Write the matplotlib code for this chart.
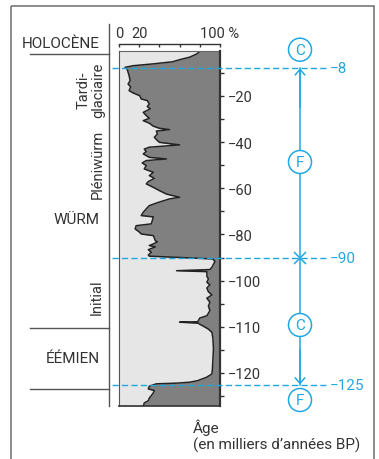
import numpy as np
import matplotlib
matplotlib.use("Agg")
import matplotlib.pyplot as plt
from matplotlib.patches import Circle, Rectangle
from matplotlib.ticker import FixedLocator, FixedFormatter
from matplotlib.transforms import blended_transform_factory

# pollen curve: age (ka, negative) and share of the light part (%)
AGE = [0, -1.1, -1.8, -3.2, -4.3, -5.2, -6.1, -6.9, -7.6, -8.3,
       -11.2, -13.4, -14.8, -16.1, -17.7, -18.7, -19.9, -21.3, -22.0, -23.5,
       -24.6, -25.6, -27.1, -28.5, -29.7, -30.7, -31.8, -33.1, -34.0, -34.6,
       -35.2, -36.5, -37.9, -38.9, -40.1, -41.2, -42.2, -43.0, -44.1, -45.1,
       -46.6, -47.3, -48.0, -49.0, -50.2, -51.6, -53.1, -54.5, -55.7, -57.1,
       -58.1, -59.6, -61.0, -62.5, -63.9, -64.6, -66.1, -67.5, -68.9, -70.4,
       -71.8, -72.4, -75.4, -76.2, -77.6, -78.9, -79.8, -80.5, -82.7, -83.2,
       -84.1, -84.8, -85.4, -86.6, -87.7, -88.9, -89.4, -90.6, -91.7, -94.2,
       -95.2, -95.7, -96.1, -98.1, -99.3, -100.35, -100.9, -101.6, -102.4, -103.1,
       -103.8, -104.7, -105.5, -106.5, -107.6, -108.1, -108.9, -109.0, -109.2, -109.8,
       -110.5, -111.2, -112.6, -114.8, -117.0, -119.1, -120.4, -121.8, -123.3, -124.0,
       -124.4, -124.7, -125.7, -126.9, -127.6, -128.6, -129.8, -130.9, -132.0, -133.0,
       -134.5]
PCT = [78, 79, 77, 70, 60, 53, 34, 14, 6, 8,
       10, 11, 9, 11.5, 10, 14, 20.5, 22, 28, 30,
       28, 31, 24, 27, 30, 24, 30, 34, 40, 50,
       37, 38, 35, 37, 40, 60, 30, 25, 27, 24,
       30, 47, 27, 23, 27, 25, 34, 30, 35, 29,
       27, 34, 40, 47, 60, 50, 39, 30, 27, 24,
       22, 34, 32, 17, 16, 20, 22, 34, 36, 38,
       34, 30, 36, 29, 32, 29, 30, 93, 95, 92,
       90, 57, 87, 87, 88.5, 87, 90, 87, 88.5, 92,
       87, 90, 88.5, 90, 87, 80, 78, 60, 78, 83,
       88.5, 92, 93, 93.5, 93, 92.5, 92, 87, 78, 70,
       57, 37, 30, 29, 35, 34, 32, 30, 29, 25,
       24]

# age axis is stretched below -100 ka in the original figure
AGE_NODES = [-300, -125, -120, -100, 50]
POS_NODES = [-320, -145, -140, -100, 50]

AGE_TICKS = [-10, -20, -30, -40, -50, -60, -70, -80, -90, -100,
             -105, -110, -115, -120, -130]
AGE_LABELS = ["", "−20", "", "−40", "", "−60", "", "−80", "", "−100",
              "", "−110", "", "−120", ""]
PCT_TICKS = [0, 20, 40, 60, 80, 100]
PCT_LABELS = ["0", "20", "", "", "", "100 %"]

EVENT_AGES = [-8, -90, -125]
EVENT_LABELS = ["−8", "−90", "−125"]
CIRCLE_LABELS = ["C", "F", "C", "F"]

BLUE = "#22a8e0"
LIGHT = "#e6e6e6"
DARK = "#808080"
INK = "#333333"


def age_to_pos(y):
    return np.interp(y, AGE_NODES, POS_NODES)


def pos_to_age(p):
    return np.interp(p, POS_NODES, AGE_NODES)


plt.rcParams["font.family"] = ["Roboto", "DejaVu Sans"]
plt.rcParams["text.color"] = INK

W, H = 379, 460
fig = plt.figure(figsize=(W / 100, H / 100), dpi=100)

ax = fig.add_axes([119 / W, 1 - 407 / H, 101 / W, 355.3 / H])
ax.set_yscale("function", functions=(age_to_pos, pos_to_age))
ax.set_facecolor(DARK)
ax.fill_betweenx(AGE, 0, PCT, color=LIGHT, lw=0)
ax.plot(PCT, AGE, color="#222222", lw=1.1)
ax.set_xlim(0, 100)
ax.set_ylim(-134.3, -0.4)

# spines
ax.spines["left"].set(color="#555555", lw=0.8)
ax.spines["bottom"].set(color=INK, lw=1.2)
ax.spines["right"].set(color=INK, lw=1.6)
ax.spines["top"].set(color=INK, lw=1.0)
ax.spines["top"].set_position(("outward", 4.5))
ax.plot([0, 1], [1, 1], transform=ax.transAxes, color="#666666", lw=0.8, clip_on=False)

ax.xaxis.set_ticks_position("top")
ax.xaxis.set_major_locator(FixedLocator(PCT_TICKS))
ax.xaxis.set_major_formatter(FixedFormatter(PCT_LABELS))
ax.tick_params(axis="x", direction="in", length=2.5, width=1, color=INK,
               labelsize=10.5, pad=3, labelcolor=INK)

ax.yaxis.set_ticks_position("right")
ax.yaxis.set_major_locator(FixedLocator(AGE_TICKS))
ax.yaxis.set_major_formatter(FixedFormatter(AGE_LABELS))
ax.yaxis.set_minor_locator(FixedLocator([]))
ax.tick_params(axis="y", direction="out", length=3, width=1, color=INK,
               labelsize=10.5, pad=3, labelcolor=INK)

# overlay in pixel coordinates
ov = fig.add_axes([0, 0, 1, 1], zorder=5)
ov.set_xlim(0, W)
ov.set_ylim(H, 0)
ov.axis("off")
blend = blended_transform_factory(ov.transData, ax.transData)

ov.add_patch(Rectangle((11, 7), 363, 470, fill=False, ec="#6d6d6d", lw=1.1))

# stratigraphy column
ov.plot([108.5, 108.5], [25, 407], color="#555555", lw=1.0)
for yy in [55, 329, 390]:
    ov.plot([30, 108.5], [yy, yy], color="#555555", lw=1.0)
ov.text(100, 44, "HOLOCÈNE", ha="right", va="center", fontsize=11)
ov.text(100, 220, "WÜRM", ha="right", va="center", fontsize=11)
ov.text(100, 359, "ÉÉMIEN", ha="right", va="center", fontsize=11)
ov.text(91, 90, "Tardi-\nglaciaire", rotation=90, ha="center", va="center",
        fontsize=10.5, linespacing=1.05, multialignment="center")
ov.text(98, 164, "Pléniwürm", rotation=90, ha="center", va="center", fontsize=10.5)
ov.text(97, 297, "Initial", rotation=90, ha="center", va="center", fontsize=10.5)

# event lines
for a, lab in zip(EVENT_AGES, EVENT_LABELS):
    ov.plot([112, 326], [a, a], transform=blend, color=BLUE, lw=1.0, dashes=(4.5, 2.3))
    ov.text(330, a, lab, transform=blend, color=BLUE, ha="left", va="center", fontsize=11)

ov.plot([300, 300], [EVENT_AGES[0], EVENT_AGES[2]], transform=blend, color=BLUE, lw=1.1)
arrow = dict(arrowstyle="->, head_length=0.4, head_width=0.35", color=BLUE, lw=1.1,
             shrinkA=0, shrinkB=0, mutation_scale=10)
ov.annotate("", xy=(300, EVENT_AGES[0]), xycoords=blend,
            xytext=(300, -25), textcoords=blend, arrowprops=arrow)
ov.annotate("", xy=(300, EVENT_AGES[2]), xycoords=blend,
            xytext=(300, -115), textcoords=blend, arrowprops=arrow)
ov.plot([300], [EVENT_AGES[1]], transform=blend, marker="x", ms=8, mew=1.1, color=BLUE)

for cy, lab in zip([50.7, 163, 326, 401], CIRCLE_LABELS):
    ov.add_patch(Circle((300, cy), 11.5, fc="white", ec=BLUE, lw=1.1, zorder=3))
    ov.text(300, cy + 0.5, lab, color=BLUE, ha="center", va="center", fontsize=11, zorder=4)

ov.text(193, 433, "Âge", ha="left", va="baseline", fontsize=11)
ov.text(193, 450, "(en milliers d’années BP)", ha="left", va="baseline", fontsize=11)

fig.savefig("out.png", dpi=100)
